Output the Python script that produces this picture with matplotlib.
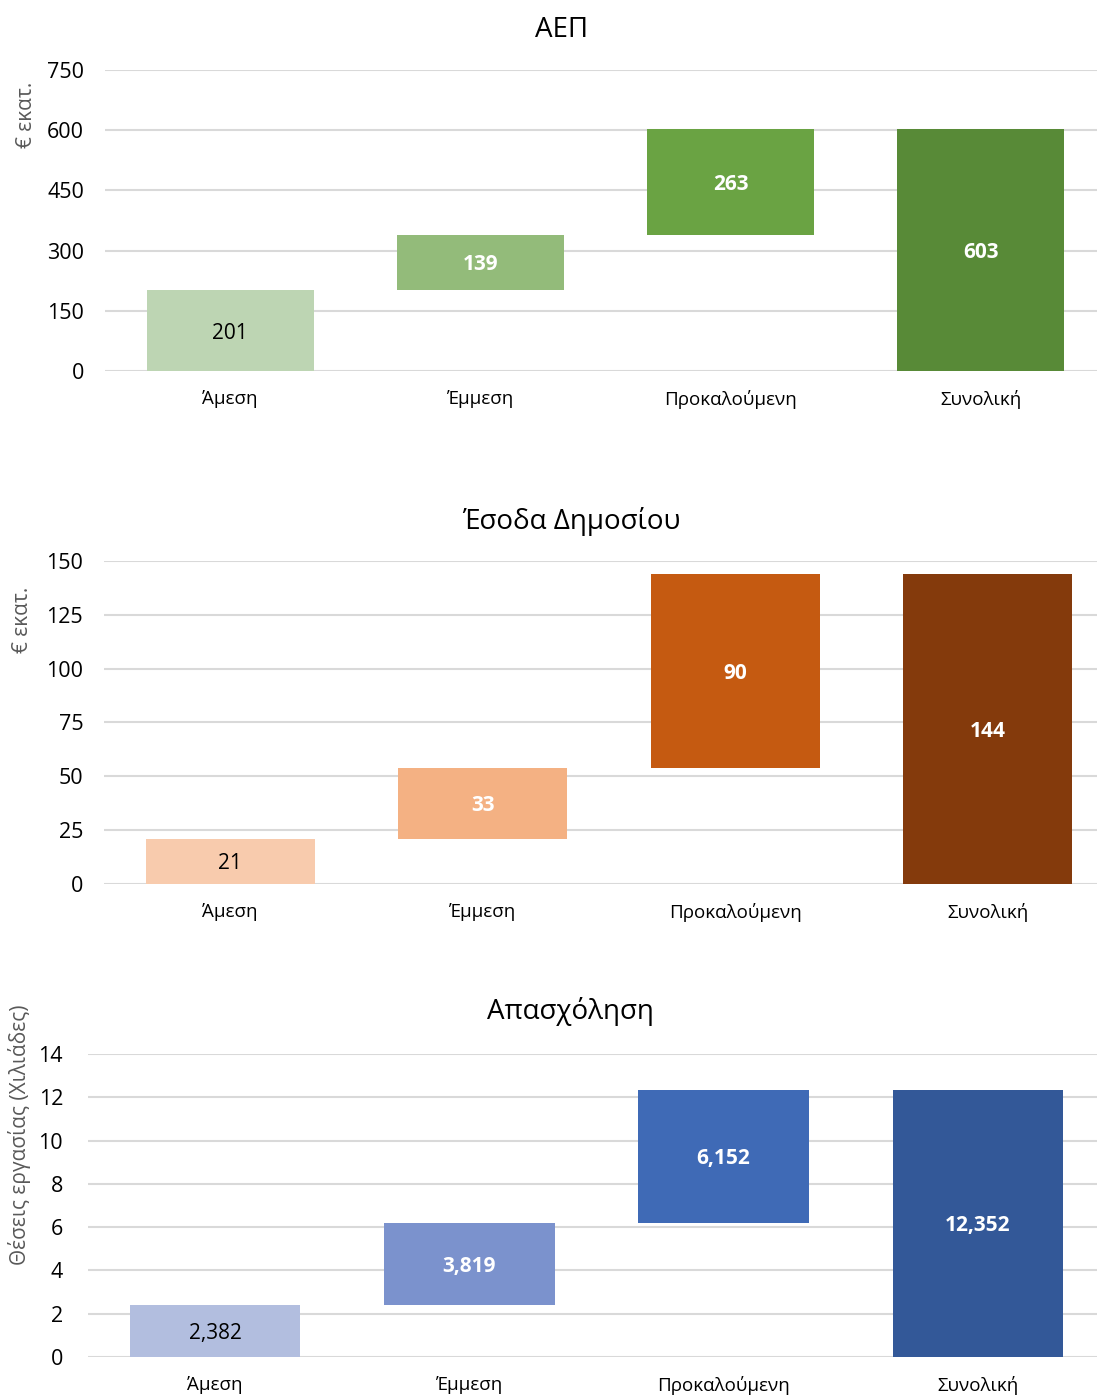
import matplotlib
matplotlib.use("Agg")
import matplotlib.pyplot as plt

plt.rcParams['font.family'] = ['Open Sans', 'DejaVu Sans']

categories = ["Άμεση", "Έμμεση", "Προκαλούμενη", "Συνολική"]

# ΑΕΠ (€ εκατ.)
gdp_values = [201, 139, 263, 603]
gdp_labels = ["201", "139", "263", "603"]
gdp_ticks = [0, 150, 300, 450, 600, 750]

# Έσοδα Δημοσίου (€ εκατ.)
rev_values = [21, 33, 90, 144]
rev_labels = ["21", "33", "90", "144"]
rev_ticks = [0, 25, 50, 75, 100, 125, 150]

# Απασχόληση (χιλιάδες θέσεις εργασίας)
emp_values = [2.382, 3.819, 6.152, 12.352]
emp_labels = ["2,382", "3,819", "6,152", "12,352"]
emp_ticks = [0, 2, 4, 6, 8, 10, 12, 14]

panels = [
    dict(title="ΑΕΠ", values=gdp_values, labels=gdp_labels, ticks=gdp_ticks,
         colors=["#BDD5B3", "#93BB7A", "#6AA343", "#588A37"],
         rect=[0.0957, 0.73424, 0.9125, 0.21562], width=0.667, ypad=15,
         title_xy=(562, 30), ylabel="€ εκατ.", ylabel_xy=(27, 115)),
    dict(title="Έσοδα Δημοσίου", values=rev_values, labels=rev_labels, ticks=rev_ticks,
         colors=["#F8CBAD", "#F4B183", "#C55A11", "#843A0C"],
         rect=[0.0948, 0.36676, 0.9207, 0.23138], width=0.67, ypad=15,
         title_xy=(571, 521), ylabel="€ εκατ.", ylabel_xy=(22, 620)),
    dict(title="Απασχόληση", values=emp_values, labels=emp_labels, ticks=emp_ticks,
         colors=["#B2BEDF", "#7B92CD", "#3F6AB6", "#335898"],
         rect=[0.0802, 0.02794, 0.9271, 0.21705], width=0.67, ypad=18,
         title_xy=(570, 1012), ylabel="Θέσεις εργασίας (Χιλιάδες)", ylabel_xy=(20, 1135)),
]

W, H = 1097, 1396
fig = plt.figure(figsize=(W / 100, H / 100), dpi=100)

for p in panels:
    ax = fig.add_axes(p["rect"])
    vals = p["values"]
    # waterfall: the first three steps stack, the last is the total from zero
    bottoms = [0, vals[0], vals[0] + vals[1], 0]
    x = range(len(categories))
    bars = ax.bar(x, vals, bottom=bottoms, width=p["width"], color=p["colors"],
                  zorder=3, linewidth=0)
    for i, (b, lab) in enumerate(zip(bars, p["labels"])):
        cy = bottoms[i] + vals[i] / 2
        if i == 0:
            ax.text(i, cy, lab, ha="center", va="center_baseline", fontsize=15,
                    color="#000000", zorder=4)
        else:
            ax.text(i, cy, lab, ha="center", va="center_baseline", fontsize=15,
                    color="white", fontweight="bold", zorder=4)
    ax.set_xlim(-0.5, len(categories) - 0.5)
    ax.set_ylim(p["ticks"][0], p["ticks"][-1])
    ax.set_yticks(p["ticks"])
    ax.set_yticklabels([str(t) for t in p["ticks"]])
    ax.set_xticks(list(x))
    ax.set_xticklabels(categories)
    ax.yaxis.grid(True, color="#D9D9D9", linewidth=1.5, zorder=0)
    ax.set_axisbelow(True)
    for s in ax.spines.values():
        s.set_visible(False)
    ax.tick_params(axis="y", length=0, pad=p["ypad"], labelsize=15.5, labelcolor="#000000")
    ax.tick_params(axis="x", length=0, pad=13.5, labelsize=13.5, labelcolor="#000000")
    fig.text(p["title_xy"][0] / W, 1 - p["title_xy"][1] / H, p["title"],
             ha="center", va="center", fontsize=20, color="#000000")
    fig.text(p["ylabel_xy"][0] / W, 1 - p["ylabel_xy"][1] / H, p["ylabel"],
             ha="center", va="center", rotation=90, fontsize=15, color="#595959")

fig.savefig("out.png", dpi=100, facecolor="white")
